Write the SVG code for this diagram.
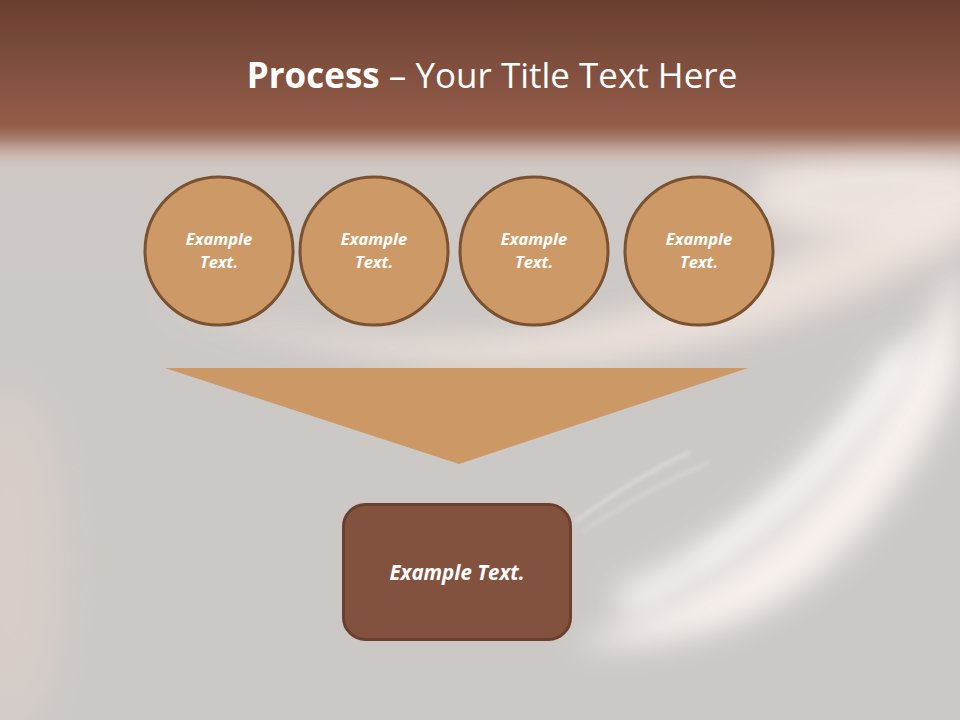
<svg xmlns="http://www.w3.org/2000/svg" width="960" height="720" viewBox="0 0 960 720">
  <defs>
    <linearGradient id="bg" x1="0" y1="0" x2="0" y2="1">
      <stop offset="0" stop-color="#d2cac6"/>
      <stop offset="0.5" stop-color="#cbc8c5"/>
      <stop offset="1" stop-color="#cbc8c5"/>
    </linearGradient>
    <linearGradient id="header" x1="0" y1="0" x2="0" y2="1">
      <stop offset="0" stop-color="#693f31"/>
      <stop offset="0.55" stop-color="#8a5644"/>
      <stop offset="0.72" stop-color="#935c48"/>
      <stop offset="0.8" stop-color="#a47463" stop-opacity="0.85"/>
      <stop offset="0.9" stop-color="#c7aaa0" stop-opacity="0.45"/>
      <stop offset="1" stop-color="#d8ccc7" stop-opacity="0"/>
    </linearGradient>
    <filter id="blur30" x="-50%" y="-50%" width="200%" height="200%">
      <feGaussianBlur stdDeviation="30"/>
    </filter>
    <filter id="blur15" x="-50%" y="-50%" width="200%" height="200%">
      <feGaussianBlur stdDeviation="15"/>
    </filter>
    <filter id="blur10" x="-50%" y="-50%" width="200%" height="200%">
      <feGaussianBlur stdDeviation="10"/>
    </filter>
    <filter id="blur2" x="-50%" y="-50%" width="200%" height="200%">
      <feGaussianBlur stdDeviation="2"/>
    </filter>
    <style>
      .circle { fill: #cd9966; stroke: #7a5230; stroke-width: 3; }
      .ctext { font-family: "Open Sans", "Noto Sans", sans-serif; font-weight: bold; font-style: italic; font-size: 16.5px; fill: #ffffff; text-anchor: middle; }
      .btext { font-family: "Open Sans", "Noto Sans", sans-serif; font-weight: bold; font-style: italic; font-size: 20.5px; fill: #ffffff; text-anchor: middle; }
      .title { font-family: "Open Sans", "Noto Sans", sans-serif; font-size: 35px; fill: #ffffff; text-anchor: middle; }
    </style>
  </defs>

  <!-- background -->
  <rect x="0" y="0" width="960" height="720" fill="url(#bg)"/>
  <g id="backdrop">
    <ellipse cx="10" cy="560" rx="50" ry="180" fill="#ddd0cb" opacity="0.8" filter="url(#blur30)"/>
    <!-- light band under circles -->
    <path d="M 150 300 Q 480 390 760 270 Q 880 220 960 170 L 960 240 Q 860 300 740 335 Q 460 410 150 300 Z" fill="#efe3dd" opacity="0.9" filter="url(#blur15)"/>
    <!-- top-right glow -->
    <ellipse cx="880" cy="195" rx="130" ry="45" fill="#f1e7e2" opacity="0.85" filter="url(#blur15)"/>
    <!-- big crescent band -->
    <path d="M 570 645 Q 800 570 900 380 Q 935 310 960 260 L 960 370 Q 920 480 830 565 Q 730 655 570 645 Z" fill="#f8f1ed" opacity="1" filter="url(#blur15)"/>
    <path d="M 620 605 Q 800 525 905 350" fill="none" stroke="#fcf8f5" stroke-width="30" opacity="0.9" filter="url(#blur15)"/>
    <path d="M 700 560 Q 840 470 920 330" fill="none" stroke="#fefcfa" stroke-width="10" opacity="0.5" filter="url(#blur10)"/>
    <!-- faint streaks -->
    <path d="M 575 522 Q 630 480 690 452" fill="none" stroke="#f4ece8" stroke-width="2" opacity="0.8" filter="url(#blur2)"/>
    <path d="M 582 532 Q 645 490 710 462" fill="none" stroke="#f4ece8" stroke-width="1.5" opacity="0.7" filter="url(#blur2)"/>
  </g>
  <!-- header band -->
  <rect x="0" y="0" width="960" height="175" fill="url(#header)"/>

  <text class="title" x="492" y="88"><tspan font-weight="bold">Process</tspan> – Your Title Text Here</text>

  <!-- connectors (funnel shape) -->
  <g id="connectors">
    <polygon points="165,368 748,368 459,464" fill="#cc9966"/>
  </g>

  <g id="node1">
    <circle class="circle" cx="219" cy="251" r="74"/>
    <text class="ctext" x="219" y="245">Example</text>
    <text class="ctext" x="219" y="268">Text.</text>
  </g>
  <g id="node2">
    <circle class="circle" cx="374" cy="251" r="74"/>
    <text class="ctext" x="374" y="245">Example</text>
    <text class="ctext" x="374" y="268">Text.</text>
  </g>
  <g id="node3">
    <circle class="circle" cx="534" cy="251" r="74"/>
    <text class="ctext" x="534" y="245">Example</text>
    <text class="ctext" x="534" y="268">Text.</text>
  </g>
  <g id="node4">
    <circle class="circle" cx="699" cy="251" r="74"/>
    <text class="ctext" x="699" y="245">Example</text>
    <text class="ctext" x="699" y="268">Text.</text>
  </g>
  <g id="node5">
    <rect x="343.5" y="504.5" width="227" height="135" rx="22" ry="22" fill="#83523f" stroke="#6a3f2e" stroke-width="3"/>
    <text class="btext" x="457" y="580">Example Text.</text>
  </g>
</svg>
